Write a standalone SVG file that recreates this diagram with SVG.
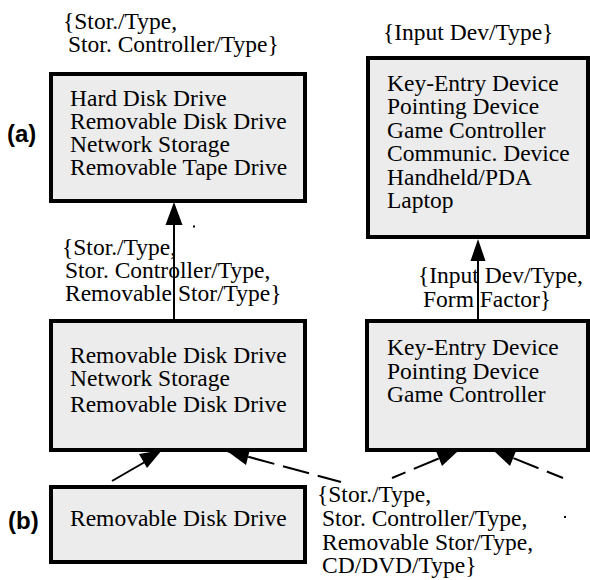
<svg xmlns="http://www.w3.org/2000/svg" width="590" height="580" viewBox="0 0 590 580">
<style>
.box{fill:#ececec;stroke:#000;stroke-width:4}
.t{font-family:"Liberation Serif","Times New Roman",serif;font-size:23.5px;fill:#000}
.lbl{font-family:"Liberation Sans",Arial,sans-serif;font-weight:bold;font-size:24px;fill:#000}
.ln{stroke:#000;stroke-width:2;fill:none}
.dash{stroke:#000;stroke-width:2;fill:none;stroke-dasharray:27 9;stroke-dashoffset:-22}
.ah{fill:#000}
</style>
<rect width="590" height="580" fill="#fff"/>
<g id="connectors">
  <line class="ln" x1="174" y1="321" x2="174" y2="215"/>
  <polygon class="ah" points="174,202 165.5,225 182.5,225"/>
  <line class="ln" x1="478" y1="321" x2="478" y2="250"/>
  <polygon class="ah" points="478,239 470.5,261 485.5,261"/>
  <line class="ln" x1="112" y1="481" x2="150" y2="459"/>
  <polygon class="ah" points="162,450 147,468 139,454"/>
  <path class="dash" d="M227,451 L341,482"/>
  <polygon class="ah" points="227,451 250,449 246,465"/>
  <path class="dash" d="M459,450 L392,478"/>
  <polygon class="ah" points="459,450 442,466 436,451"/>
  <path class="dash" d="M493,450 L563,478"/>
  <polygon class="ah" points="493,450 516,451 510,466"/>
</g>
<g id="nodeA">
  <rect class="box" x="51" y="74" width="254" height="127"/>
  <text class="t" x="70" y="106">Hard Disk Drive</text>
  <text class="t" x="70" y="129">Removable Disk Drive</text>
  <text class="t" x="70" y="152">Network Storage</text>
  <text class="t" x="70" y="175">Removable Tape Drive</text>
</g>
<g id="nodeB">
  <rect class="box" x="368" y="58" width="220" height="179"/>
  <text class="t" x="387" y="90.5">Key-Entry Device</text>
  <text class="t" x="387" y="114">Pointing Device</text>
  <text class="t" x="387" y="137.5">Game Controller</text>
  <text class="t" x="387" y="161">Communic. Device</text>
  <text class="t" x="387" y="184.5">Handheld/PDA</text>
  <text class="t" x="387" y="208">Laptop</text>
</g>
<g id="nodeC">
  <rect class="box" x="51" y="321" width="254" height="129"/>
  <text class="t" x="70" y="363">Removable Disk Drive</text>
  <text class="t" x="70" y="386">Network Storage</text>
  <text class="t" x="70" y="412">Removable Disk Drive</text>
</g>
<g id="nodeD">
  <rect class="box" x="367" y="321" width="221" height="129"/>
  <text class="t" x="387" y="355">Key-Entry Device</text>
  <text class="t" x="387" y="378.5">Pointing Device</text>
  <text class="t" x="387" y="402">Game Controller</text>
</g>
<g id="nodeE">
  <rect class="box" x="51" y="487" width="254" height="75"/>
  <text class="t" x="70" y="526">Removable Disk Drive</text>
</g>
<g id="labels">
  <text class="t" x="63" y="29">{Stor./Type,</text>
  <text class="t" x="68" y="52">Stor. Controller/Type}</text>
  <text class="t" x="383" y="40">{Input Dev/Type}</text>
  <text class="t" x="62" y="255">{Stor./Type,</text>
  <text class="t" x="65" y="278">Stor. Controller/Type,</text>
  <text class="t" x="65" y="301">Removable Stor/Type}</text>
  <text class="t" x="418" y="283">{Input Dev/Type,</text>
  <text class="t" x="423" y="307">Form Factor}</text>
  <text class="t" x="317" y="502">{Stor./Type,</text>
  <text class="t" x="322" y="525.5">Stor. Controller/Type,</text>
  <text class="t" x="322" y="550">Removable Stor/Type,</text>
  <text class="t" x="322" y="573">CD/DVD/Type}</text>
  <text class="lbl" x="7" y="142">(a)</text>
  <text class="lbl" x="8" y="529">(b)</text>
  <rect x="193" y="225.5" width="2" height="2" fill="#000"/>
  <rect x="564" y="516" width="2" height="2" fill="#000"/>
</g>
</svg>
